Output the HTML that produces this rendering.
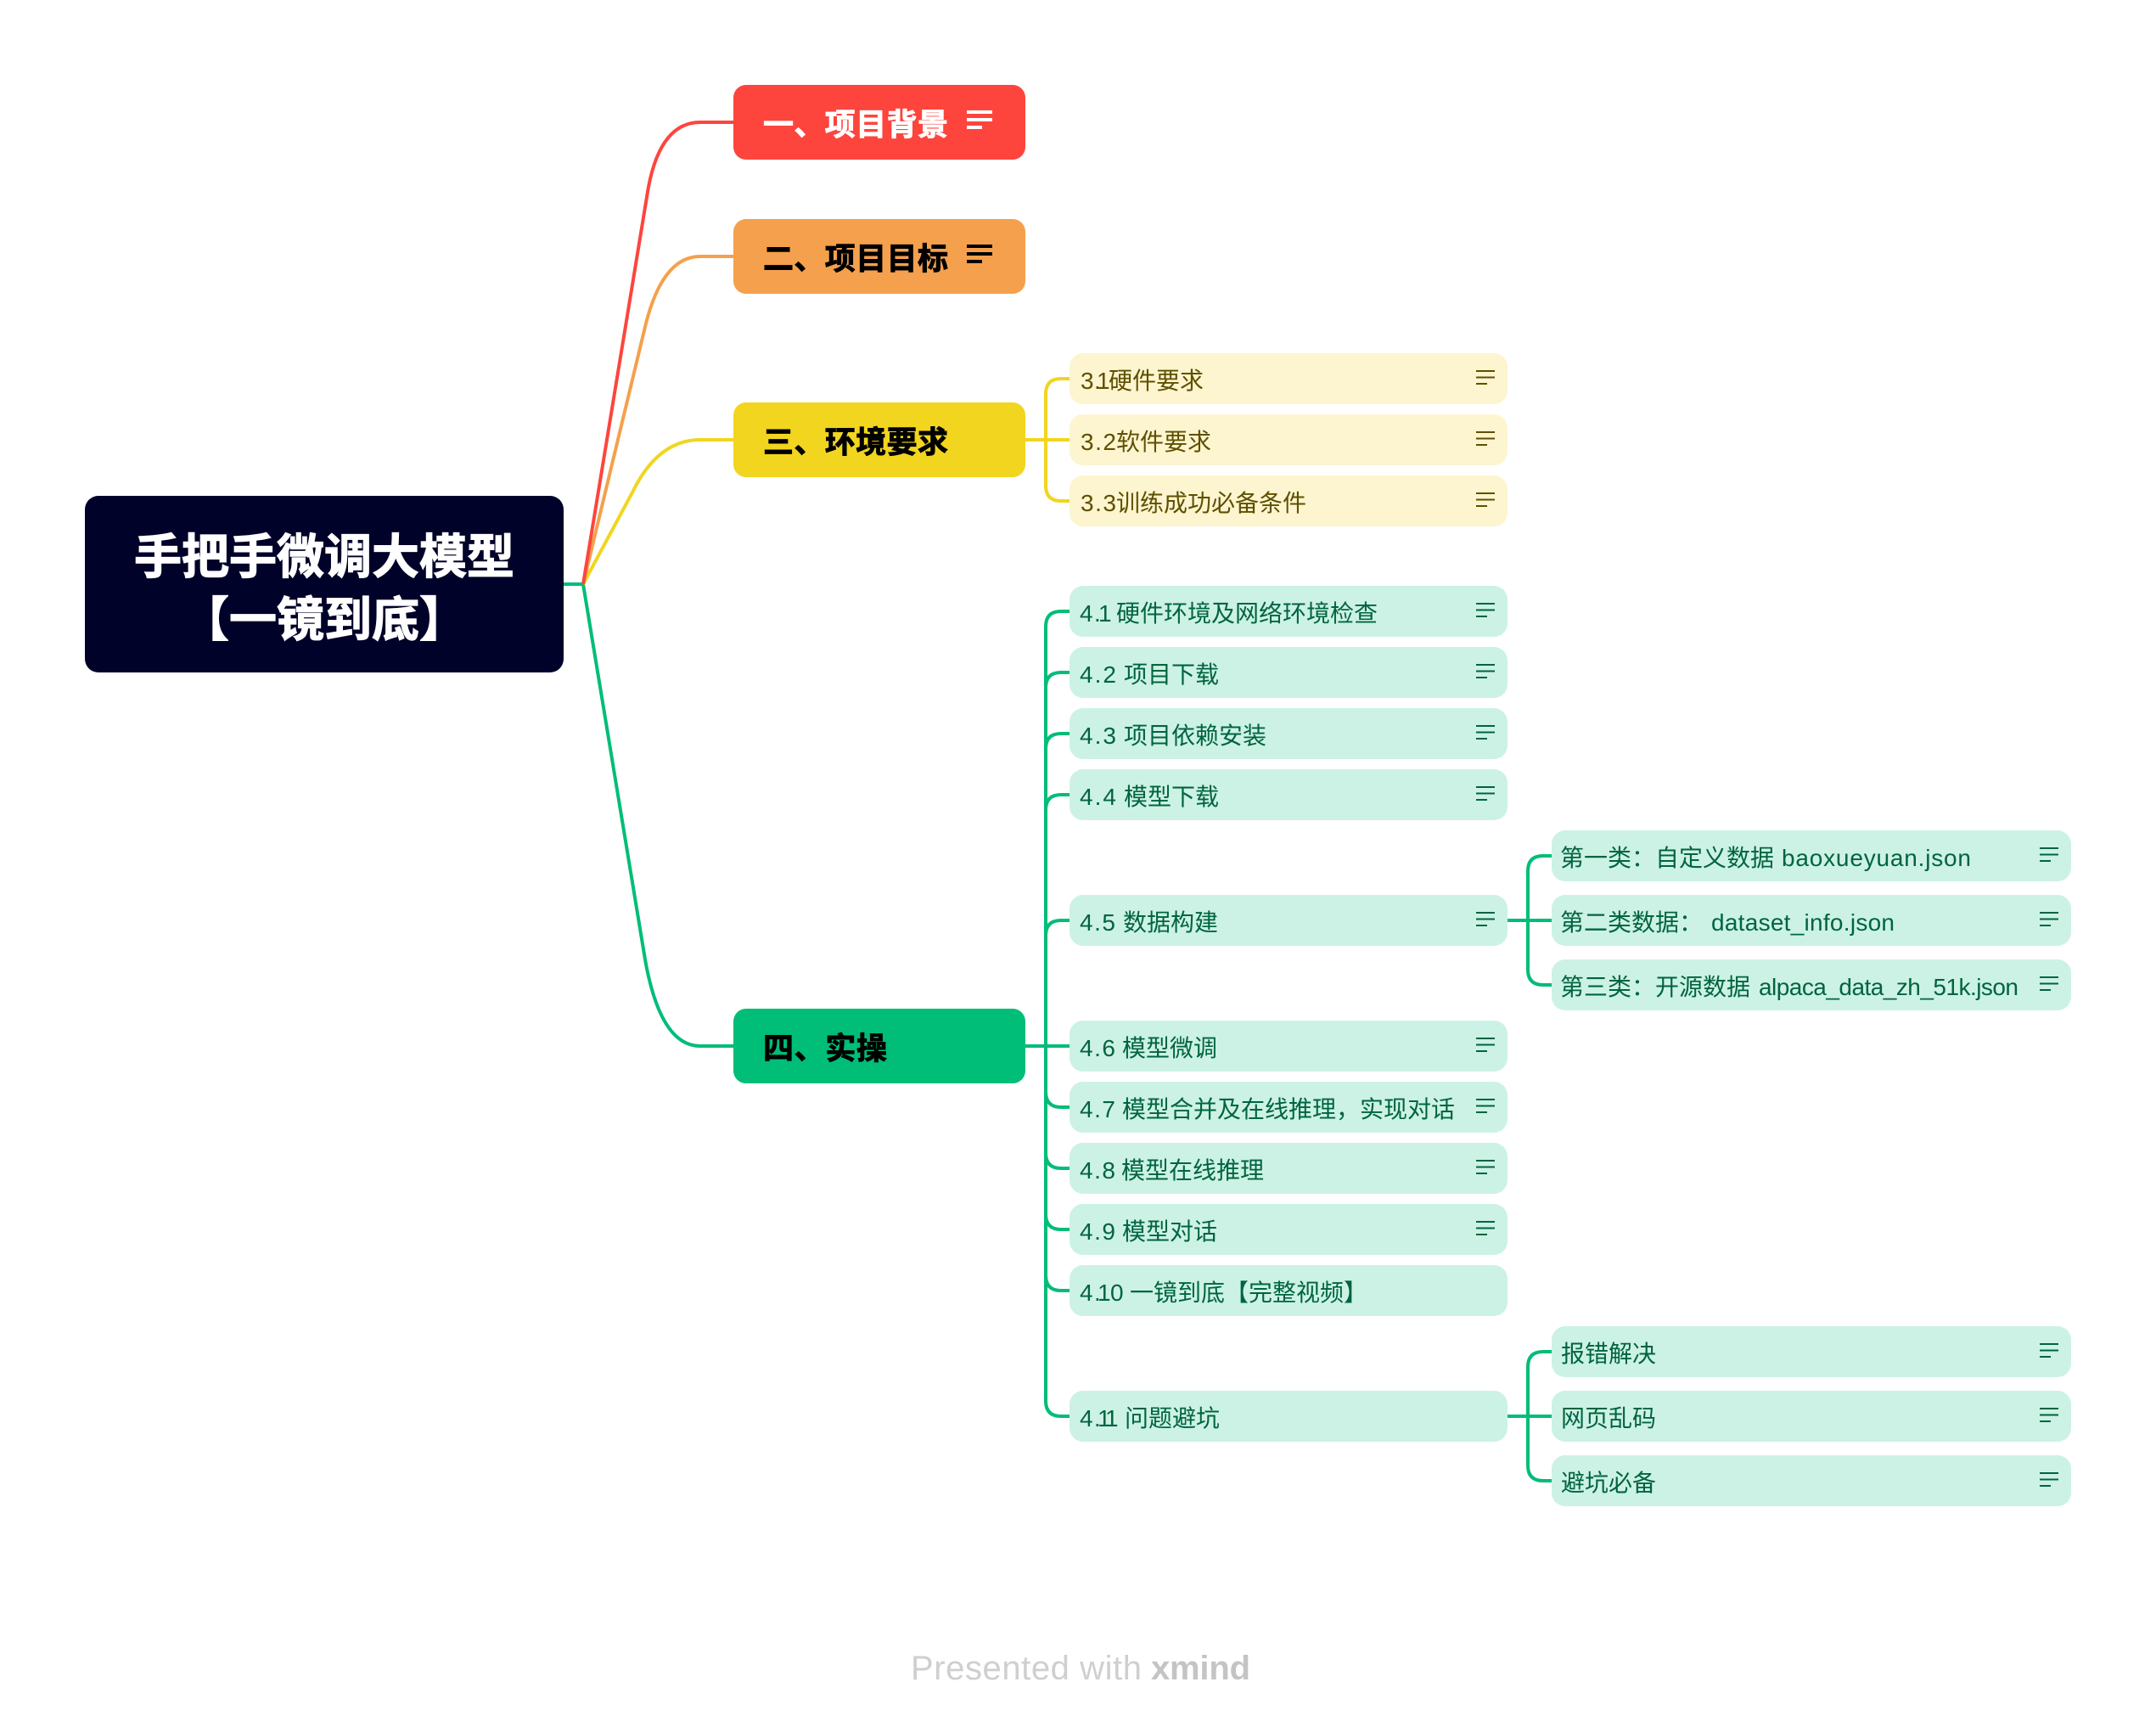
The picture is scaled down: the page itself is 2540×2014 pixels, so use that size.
<!DOCTYPE html>
<html><head><meta charset="utf-8"><style>
html,body{margin:0;padding:0;background:#fff;width:2540px;height:2014px;overflow:hidden}
svg{display:block}
text{font-family:"Liberation Sans","Noto Sans CJK SC",sans-serif;white-space:pre}
.b{font-size:36px;font-weight:700;stroke-width:.9px}
.r{font-size:56px;font-weight:700;fill:#fff;stroke:#fff;stroke-width:1.2px;text-anchor:middle}
.y{font-size:28px;fill:#5f4f00}
.g{font-size:28px;fill:#00643f}
.c{fill:none;stroke-width:4}
.iw,.ik,.iy,.ig{fill:none}
.iw{stroke:#fff;stroke-width:4}.ik{stroke:#000;stroke-width:4}
.iy{stroke:#5f4f00;stroke-width:2}.ig{stroke:#00643f;stroke-width:2}
</style></head><body>
<svg width="2540" height="2014" viewBox="0 0 2540 2014" xmlns="http://www.w3.org/2000/svg">
<rect width="2540" height="2014" fill="#fff"/>

<path class="c" stroke="#00bd78" d="M664 688H687L760 1130Q778 1232 825 1232H864"/>
<path class="c" stroke="#f2d51e" d="M687 688L745 580Q775 518 825 518H864"/>
<path class="c" stroke="#f5a04c" d="M687 688L760 385Q780 302 825 302H864"/>
<path class="c" stroke="#fd453d" d="M687 688L762 232Q775 144 825 144H864"/>

<g class="c" stroke="#f2d51e">
<path d="M1208 518H1262"/>
<path d="M1262 446H1250Q1232 446 1232 464V572Q1232 590 1250 590H1262"/>
</g>

<g class="c" stroke="#00bd78">
<path d="M1208 1232H1262"/>
<path d="M1262 720H1250Q1232 720 1232 738V1650Q1232 1668 1250 1668H1262"/>
<path d="M1232 810Q1232 792 1250 792H1262"/>
<path d="M1232 882Q1232 864 1250 864H1262"/>
<path d="M1232 954Q1232 936 1250 936H1262"/>
<path d="M1232 1102Q1232 1084 1250 1084H1262"/>
<path d="M1232 1286Q1232 1304 1250 1304H1262"/>
<path d="M1232 1358Q1232 1376 1250 1376H1262"/>
<path d="M1232 1430Q1232 1448 1250 1448H1262"/>
<path d="M1232 1502Q1232 1520 1250 1520H1262"/>
<path d="M1776 1084H1830"/>
<path d="M1830 1008H1818Q1800 1008 1800 1026V1142Q1800 1160 1818 1160H1830"/>
<path d="M1776 1668H1830"/>
<path d="M1830 1592H1818Q1800 1592 1800 1610V1726Q1800 1744 1818 1744H1830"/>
</g>

<rect x="100" y="584" width="564" height="208" rx="16" fill="#000229"/>
<text class="r" x="382" y="675.5" textLength="448">手把手微调大模型</text>
<text class="r" x="382" y="749.5" textLength="336">【一镜到底】</text>

<rect x="864" y="100" width="344" height="88" rx="15" fill="#fd453d"/>
<text class="b" x="899" y="159" fill="#fff" stroke="#fff" textLength="218">一、项目背景</text>
<path class="iw" d="M1139 132H1169M1139 141H1169M1139 150H1157"/>

<rect x="864" y="258" width="344" height="88" rx="15" fill="#f5a04c"/>
<text class="b" x="899" y="317" fill="#000" stroke="#000" textLength="218">二、项目目标</text>
<path class="ik" d="M1139 290H1169M1139 299H1169M1139 308H1157"/>

<rect x="864" y="474" width="344" height="88" rx="15" fill="#f2d51e"/>
<text class="b" x="899" y="533" fill="#000" stroke="#000" textLength="218">三、环境要求</text>

<rect x="864" y="1188" width="344" height="88" rx="15" fill="#00bd78"/>
<text class="b" x="899" y="1247" fill="#000" stroke="#000" textLength="146">四、实操</text>

<g fill="#fcf5cf">
<rect x="1260" y="416" width="516" height="60" rx="16"/>
<rect x="1260" y="488" width="516" height="60" rx="16"/>
<rect x="1260" y="560" width="516" height="60" rx="16"/>
</g>
<g fill="#ccf2e5">
<rect x="1260" y="690" width="516" height="60" rx="16"/>
<rect x="1260" y="762" width="516" height="60" rx="16"/>
<rect x="1260" y="834" width="516" height="60" rx="16"/>
<rect x="1260" y="906" width="516" height="60" rx="16"/>
<rect x="1260" y="1054" width="516" height="60" rx="16"/>
<rect x="1260" y="1202" width="516" height="60" rx="16"/>
<rect x="1260" y="1274" width="516" height="60" rx="16"/>
<rect x="1260" y="1346" width="516" height="60" rx="16"/>
<rect x="1260" y="1418" width="516" height="60" rx="16"/>
<rect x="1260" y="1490" width="516" height="60" rx="16"/>
<rect x="1260" y="1638" width="516" height="60" rx="16"/>
<rect x="1828" y="978" width="612" height="60" rx="16"/>
<rect x="1828" y="1054" width="612" height="60" rx="16"/>
<rect x="1828" y="1130" width="612" height="60" rx="16"/>
<rect x="1828" y="1562" width="612" height="60" rx="16"/>
<rect x="1828" y="1638" width="612" height="60" rx="16"/>
<rect x="1828" y="1714" width="612" height="60" rx="16"/>
</g>

<text class="y" x="1273 1289 1292" y="458">3.1</text><text class="y" x="1306" y="458">硬件要求</text>
<text class="y" x="1273" y="530" textLength="42">3.2</text><text class="y" x="1315" y="530">软件要求</text>
<text class="y" x="1273" y="602" textLength="42">3.3</text><text class="y" x="1315" y="602">训练成功必备条件</text>

<text class="g" x="1272 1289 1294" y="732">4.1</text><text class="g" x="1315" y="732">硬件环境及网络环境检查</text>
<text class="g" x="1272" y="804" textLength="43">4.2</text><text class="g" x="1324" y="804">项目下载</text>
<text class="g" x="1272" y="876" textLength="43">4.3</text><text class="g" x="1324" y="876">项目依赖安装</text>
<text class="g" x="1272" y="948" textLength="43">4.4</text><text class="g" x="1324" y="948">模型下载</text>
<text class="g" x="1272" y="1096" textLength="42">4.5</text><text class="g" x="1323" y="1096">数据构建</text>
<text class="g" x="1272" y="1244" textLength="42">4.6</text><text class="g" x="1322" y="1244">模型微调</text>
<text class="g" x="1272" y="1316" textLength="42">4.7</text><text class="g" x="1322" y="1316">模型合并及在线推理，实现对话</text>
<text class="g" x="1272" y="1388" textLength="42">4.8</text><text class="g" x="1321" y="1388">模型在线推理</text>
<text class="g" x="1272" y="1460" textLength="42">4.9</text><text class="g" x="1322" y="1460">模型对话</text>
<text class="g" x="1272 1289 1293 1308" y="1532">4.10</text><text class="g" x="1331" y="1532">一镜到底【完整视频】</text>
<text class="g" x="1272 1289 1293 1302" y="1680">4.11</text><text class="g" x="1325" y="1680">问题避坑</text>

<text class="g" x="1838" y="1020">第一类：自定义数据</text><text class="g" x="2099" y="1020" textLength="223">baoxueyuan.json</text>
<text class="g" x="1838" y="1096">第二类数据：</text><text class="g" x="2016" y="1096" textLength="216">dataset_info.json</text>
<text class="g" x="1838" y="1172">第三类：开源数据</text><text class="g" x="2072" y="1172" textLength="306">alpaca_data_zh_51k.json</text>
<text class="g" x="1839" y="1604">报错解决</text>
<text class="g" x="1839" y="1680">网页乱码</text>
<text class="g" x="1839" y="1756">避坑必备</text>

<path class="iy" d="M1739 437H1761M1739 444.5H1761M1739 452H1752M1739 509H1761M1739 516.5H1761M1739 524H1752M1739 581H1761M1739 588.5H1761M1739 596H1752"/>
<path class="ig" d="M1739 711H1761M1739 718.5H1761M1739 726H1752
M1739 783H1761M1739 790.5H1761M1739 798H1752
M1739 855H1761M1739 862.5H1761M1739 870H1752
M1739 927H1761M1739 934.5H1761M1739 942H1752
M1739 1075H1761M1739 1082.5H1761M1739 1090H1752
M1739 1223H1761M1739 1230.5H1761M1739 1238H1752
M1739 1295H1761M1739 1302.5H1761M1739 1310H1752
M1739 1367H1761M1739 1374.5H1761M1739 1382H1752
M1739 1439H1761M1739 1446.5H1761M1739 1454H1752
M2403 999H2425M2403 1006.5H2425M2403 1014H2416
M2403 1075H2425M2403 1082.5H2425M2403 1090H2416
M2403 1151H2425M2403 1158.5H2425M2403 1166H2416
M2403 1583H2425M2403 1590.5H2425M2403 1598H2416
M2403 1659H2425M2403 1666.5H2425M2403 1674H2416
M2403 1735H2425M2403 1742.5H2425M2403 1750H2416"/>

<text x="1073" y="1978" font-size="40" fill="#cfcfcf" textLength="272">Presented with</text>
<text x="1356" y="1978" font-size="40" font-weight="700" fill="#c4c4c4" textLength="117">xmind</text>
</svg>
</body></html>
